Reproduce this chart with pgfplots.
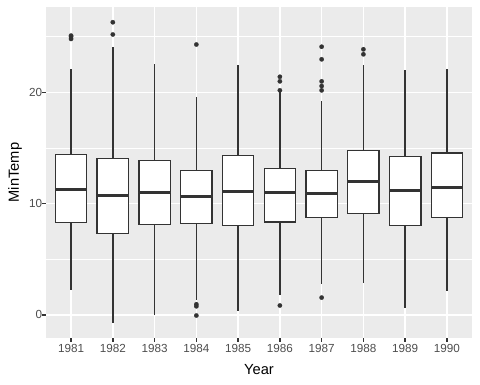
\documentclass[border=0pt]{standalone}
\usepackage{pgfplots}
\pgfplotsset{compat=1.18}
\usepgfplotslibrary{statistics}
\usepackage{fontspec}
\setmainfont{Liberation Sans}
\definecolor{gpanel}{HTML}{EBEBEB}
\definecolor{gdark}{HTML}{333333}
\definecolor{glab}{HTML}{4D4D4D}
\pgfplotsset{gbox/.style={boxplot prepared={#1}, draw=gdark, fill=white, line width=1.42bp, solid,
  mark=*, mark size=2.2bp, mark options={fill=gdark, draw=gdark, line width=0.2bp}}}
\begin{document}
\begin{tikzpicture}
\begin{axis}[name=ax, scale only axis, width=426bp, height=331bp,
  xmin=0.4, xmax=10.6, ymin=-2.07, ymax=27.67,
  axis background/.style={fill=gpanel},
  axis line style={draw=none},
  xtick={1,2,3,4,5,6,7,8,9,10},
  xticklabels={1981,1982,1983,1984,1985,1986,1987,1988,1989,1990},
  ytick={0,10,20}, minor ytick={5,15,25},
  grid=both,
  major grid style={white, line width=1.42bp},
  minor grid style={white, line width=0.71bp},
  tick align=outside, tick pos=left,
  major tick length=3.67bp, minor tick length=0pt,
  tick style={gdark, line width=1.42bp},
  ticklabel style={font=\fontsize{11.7bp}{13bp}\selectfont, text=glab, inner sep=0pt},
  xticklabel style={yshift=-2.3bp},
  /pgf/number format/assume math mode=true,
  xlabel={Year}, ylabel={MinTemp},
  label style={font=\fontsize{14.67bp}{16bp}\selectfont, text=black, inner sep=0pt},
  xlabel style={at={(axis description cs:0.5,-0.1097)}, anchor=base},
  ylabel style={at={(axis description cs:-0.0638,0.5)}, anchor=base, rotate=0},
  boxplot/draw direction=y,
  boxplot/box extend=0.75, boxplot/whisker extend=0,
  boxplot/every median/.style={line width=2.84bp},
]
\addplot[gbox={draw position=1, lower whisker=2.22, lower quartile=8.31, median=11.24, upper quartile=14.42, upper whisker=22.1}]
  table[row sep=\\, y index=0] {v\\ 24.8\\ 25.0\\ 25.1\\};
\addplot[gbox={draw position=2, lower whisker=-0.72, lower quartile=7.32, median=10.70, upper quartile=14.07, upper whisker=24.07}]
  table[row sep=\\, y index=0] {v\\ 25.2\\ 26.3\\};
\addplot[gbox={draw position=3, lower whisker=0.0, lower quartile=8.13, median=11.03, upper quartile=13.88, upper whisker=22.54}]
  coordinates {};
\addplot[gbox={draw position=4, lower whisker=1.32, lower quartile=8.22, median=10.61, upper quartile=12.98, upper whisker=19.58}]
  table[row sep=\\, y index=0] {v\\ 24.3\\ 0.96\\ 0.78\\ -0.05\\};
\addplot[gbox={draw position=5, lower whisker=0.36, lower quartile=8.04, median=11.06, upper quartile=14.33, upper whisker=22.45}]
  coordinates {};
\addplot[gbox={draw position=6, lower whisker=1.8, lower quartile=8.36, median=10.97, upper quartile=13.17, upper whisker=20.0}]
  table[row sep=\\, y index=0] {v\\ 20.18\\ 20.99\\ 21.4\\ 0.85\\};
\addplot[gbox={draw position=7, lower whisker=2.79, lower quartile=8.76, median=10.88, upper quartile=12.98, upper whisker=19.2}]
  table[row sep=\\, y index=0] {v\\ 20.18\\ 20.57\\ 20.99\\ 22.97\\ 24.1\\ 1.56\\};
\addplot[gbox={draw position=8, lower whisker=2.88, lower quartile=9.12, median=12.02, upper quartile=14.78, upper whisker=22.43}]
  table[row sep=\\, y index=0] {v\\ 23.42\\ 23.87\\};
\addplot[gbox={draw position=9, lower whisker=0.63, lower quartile=8.04, median=11.21, upper quartile=14.24, upper whisker=21.98}]
  coordinates {};
\addplot[gbox={draw position=10, lower whisker=2.16, lower quartile=8.76, median=11.48, upper quartile=14.57, upper whisker=22.07}]
  coordinates {};
\end{axis}
\pgfresetboundingbox
\path ([shift={(-46bp,-46.3bp)}]ax.south west) rectangle ([shift={(8bp,7bp)}]ax.north east);
\end{tikzpicture}
\end{document}
